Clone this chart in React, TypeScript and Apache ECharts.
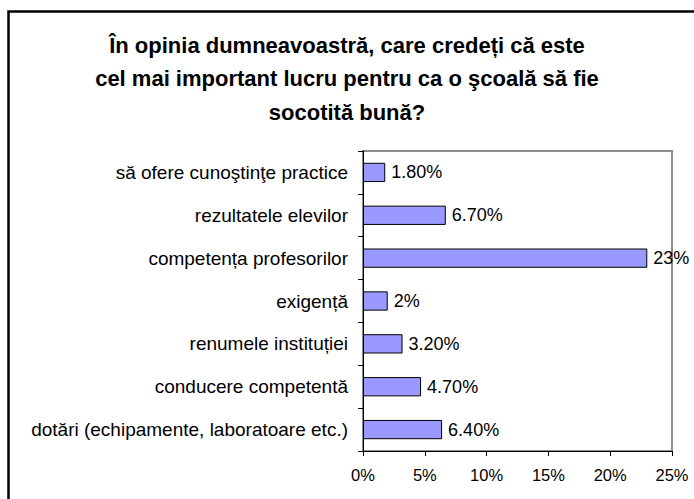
import React, { useEffect, useRef } from "react";
import * as echarts from "echarts";

const titleLines = [
  "În opinia dumneavoastră, care credeți că este",
  "cel mai important lucru pentru ca o şcoală să fie",
  "socotită bună?",
];
const categories = [
  "să ofere cunoştinţe practice",
  "rezultatele elevilor",
  "competența profesorilor",
  "exigență",
  "renumele instituției",
  "conducere competentă",
  "dotări (echipamente, laboratoare etc.)",
];
const values = [1.8, 6.7, 23, 2, 3.2, 4.7, 6.4];
const valueLabels = ["1.80%", "6.70%", "23%", "2%", "3.20%", "4.70%", "6.40%"];
const xTicks = [0, 5, 10, 15, 20, 25];

const FONT = "'Liberation Sans', Arial, sans-serif";

export default function App() {
  const ref = useRef<HTMLDivElement>(null);
  useEffect(() => {
    if (!ref.current) return;
    const chart = echarts.init(ref.current, null, { renderer: "svg" });
    chart.setOption({
      animation: false,
      backgroundColor: "#ffffff",
      textStyle: { fontFamily: FONT },
      graphic: [
        {
          type: "rect",
          shape: { x: 8.5, y: 11.5, width: 720, height: 520 },
          style: { fill: "none", stroke: "#000", lineWidth: 2.5 },
          silent: true,
        },
        ...titleLines.map((t, i) => ({
          type: "text",
          x: 347,
          y: 45 + i * 33.5,
          silent: true,
          style: {
            text: t,
            fill: "#000",
            font: `bold 22px ${FONT}`,
            textAlign: "center",
            textVerticalAlign: "middle",
          },
        })),
      ],
      grid: {
        left: 363,
        right: 22,
        top: 151,
        bottom: 48,
        show: true,
        borderColor: "#8c8c8c",
        borderWidth: 2,
        backgroundColor: "transparent",
      },
      xAxis: {
        type: "value",
        min: xTicks[0],
        max: xTicks[xTicks.length - 1],
        interval: 5,
        splitLine: { show: false },
        axisLine: { show: true, lineStyle: { color: "#000", width: 1 } },
        axisTick: { show: true, length: 5, lineStyle: { color: "#000" } },
        axisLabel: {
          formatter: (v: number) => `${v}%`,
          fontFamily: FONT,
          fontSize: 16.5,
          color: "#000",
          margin: 15,
        },
      },
      yAxis: {
        type: "category",
        inverse: true,
        data: categories,
        axisLine: { show: true, lineStyle: { color: "#000", width: 1 } },
        axisTick: { show: true, length: 5, lineStyle: { color: "#000" } },
        axisLabel: {
          fontFamily: FONT,
          fontSize: 19,
          color: "#000",
          margin: 15,
        },
      },
      series: [
        {
          type: "bar",
          data: values,
          barWidth: "45%",
          itemStyle: { color: "#9999ff", borderColor: "#000", borderWidth: 1 },
          label: {
            show: true,
            position: "right",
            distance: 6,
            formatter: (p: any) => valueLabels[p.dataIndex],
            fontFamily: FONT,
            fontSize: 18,
            color: "#000",
          },
        },
      ],
    });
    return () => chart.dispose();
  }, []);
  return <div ref={ref} style={{ width: 694, height: 499, position: "absolute", left: 0, top: 0 }} />;
}
